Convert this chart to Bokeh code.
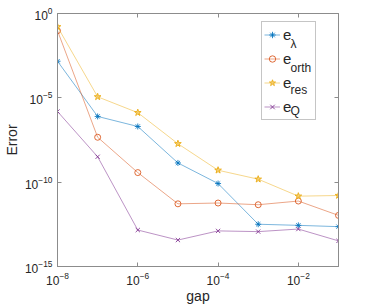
from bokeh.plotting import figure
from bokeh.models import (Range1d, FixedTicker, LogAxis, Legend, LegendItem, Label,
                          CustomJSTickFormatter)
from bokeh.embed import file_html
from bokeh.resources import INLINE

# ---- data ----
gap = [1e-8, 1e-7, 1e-6, 1e-5, 1e-4, 1e-3, 1e-2, 1e-1]
e_lambda = [1.48e-3, 7.9e-7, 2.0e-7, 1.38e-9, 8.3e-11, 3.2e-13, 2.75e-13, 2.3e-13]
e_orth = [9.5e-2, 4.6e-8, 3.7e-10, 5.2e-12, 5.8e-12, 4.6e-12, 7.6e-12, 1.07e-12]
e_res = [1.64e-1, 1.15e-5, 1.32e-6, 1.9e-8, 5.1e-10, 1.5e-10, 1.48e-11, 1.62e-11]
e_Q = [1.55e-6, 3.2e-9, 1.45e-13, 3.7e-14, 1.29e-13, 1.17e-13, 1.66e-13, 3.3e-14]
subscripts = ["λ", "orth", "res", "Q"]
x_ticks = [1e-8, 1e-6, 1e-4, 1e-2]
y_ticks = [1e-15, 1e-10, 1e-5, 1e0]

FONT = "Liberation Sans"
AXC = "#8c8c8c"
TXT = "#262626"
colors = ["#0072BD", "#D95319", "#EDB120", "#7E2F8E"]
markers = ["asterisk", "circle", "star", "x"]
msize = [6, 6, 7, 6]

p = figure(width=374, height=306, x_axis_type="log", y_axis_type="log",
           x_range=Range1d(1e-8, 1e-1), y_range=Range1d(1e-15, 1),
           output_backend="svg", toolbar_location=None,
           min_border_left=57, min_border_right=36, min_border_top=13, min_border_bottom=40)
p.grid.visible = False
p.outline_line_color = AXC
p.background_fill_color = "white"
p.border_fill_color = "white"

for ax in (p.xaxis[0], p.yaxis[0]):
    ax.axis_line_color = AXC
    ax.major_tick_line_color = AXC
    ax.major_tick_in = 4
    ax.major_tick_out = 0
    ax.minor_tick_in = 0
    ax.minor_tick_out = 0
    ax.major_label_text_font = FONT
    ax.major_label_text_font_size = "12px"
    ax.major_label_text_color = TXT
    ax.axis_label_text_font = FONT
    ax.axis_label_text_font_size = "14px"
    ax.axis_label_text_font_style = "normal"
    ax.axis_label_text_color = TXT

p.xaxis.ticker = FixedTicker(ticks=x_ticks, minor_ticks=[])
p.yaxis.ticker = FixedTicker(ticks=y_ticks, minor_ticks=[])
p.xaxis.axis_label = "gap"
p.yaxis.axis_label = "Error"
p.xaxis.major_label_standoff = 5
p.xaxis.axis_label_standoff = 0
p.yaxis.major_label_standoff = 5
p.yaxis.axis_label_standoff = 2

blank = CustomJSTickFormatter(code="return ''")
top = LogAxis(ticker=FixedTicker(ticks=x_ticks, minor_ticks=[]), formatter=blank,
              axis_line_color=AXC, major_tick_line_color=AXC, major_tick_in=4, major_tick_out=0,
              minor_tick_in=0, minor_tick_out=0, major_label_standoff=0)
right = LogAxis(ticker=FixedTicker(ticks=y_ticks, minor_ticks=[]), formatter=blank,
                axis_line_color=AXC, major_tick_line_color=AXC, major_tick_in=4, major_tick_out=0,
                minor_tick_in=0, minor_tick_out=0, major_label_standoff=0)
p.add_layout(top, "above")
p.add_layout(right, "right")

items = []
for ys, c, m, s in zip([e_lambda, e_orth, e_res, e_Q], colors, markers, msize):
    ln = p.line(gap, ys, line_color=c, line_width=0.8, line_alpha=0.65)
    if m == "star":
        sc = p.scatter(gap, ys, marker=m, size=s, line_color=c, fill_color=c, fill_alpha=0.5)
    else:
        sc = p.scatter(gap, ys, marker=m, size=s, line_color=c, fill_color=None, line_alpha=0.85)
    items.append(LegendItem(label="e", renderers=[ln, sc]))

legend = Legend(items=items, location=(204, 146), padding=2, margin=0, spacing=3,
                glyph_width=16, glyph_height=21, label_height=21, label_width=30,
                label_standoff=3, label_text_font=FONT, label_text_font_size="15px",
                label_text_color=TXT, border_line_color=AXC, background_fill_alpha=0)
p.add_layout(legend)

sub_y = [223, 199, 177, 156]
for t, yy in zip(subscripts, sub_y):
    p.add_layout(Label(x=233, y=yy, x_units="screen", y_units="screen", text=t,
                       text_font=FONT, text_font_size="12px", text_color=TXT,
                       text_baseline="alphabetic", text_align="left", level="overlay"))

open("out.html", "w").write(file_html(p, INLINE))
